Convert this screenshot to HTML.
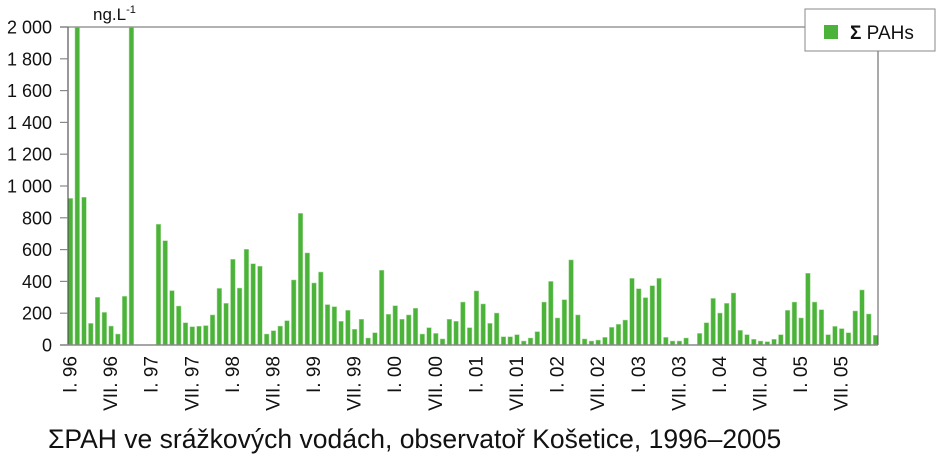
<!DOCTYPE html>
<html><head><meta charset="utf-8"><style>
body{margin:0;background:#fff;}
svg{display:block;font-family:"Liberation Sans",sans-serif;}
</style></head><body>
<svg width="950" height="458" viewBox="0 0 950 458">
<g id="bars"></g>
<g id="axes"></g>
<text x="93" y="20" font-size="17" fill="#111">ng.L<tspan dy="-7" font-size="11">-1</tspan></text>
<g>
<rect x="805" y="9" width="130" height="42" fill="#fff" stroke="#888" stroke-width="1"/>
<rect x="824" y="25" width="14" height="14" fill="#4cb33a"/>
<text x="850" y="39" font-size="19" fill="#111"><tspan font-weight="bold">Σ</tspan> PAHs</text>
</g>
<text x="48" y="448" font-size="26.5" fill="#111">ΣPAH ve srážkových vodách, observatoř Košetice, 1996–2005</text>
</svg>
<script>
const values = [922,2000,929,136,300,205,119,69,306,2000,0,0,
0,759,656,342,245,140,115,118,122,189,356,262,
539,358,602,511,495,69,90,119,153,409,828,579,
390,459,254,241,149,218,99,162,44,77,470,193,
247,162,189,231,69,109,73,38,162,149,270,109,
340,258,136,201,52,52,65,25,44,84,270,400,
170,285,535,189,38,25,31,48,111,130,157,419,
354,298,373,419,48,25,25,44,0,73,140,293,
201,262,327,92,65,36,25,21,36,65,218,270,
170,451,270,222,65,117,103,77,214,346,195,61];
const yTicks = [0,200,400,600,800,1000,1200,1400,1600,1800,2000];
const yTickLabels = ["0","200","400","600","800","1 000","1 200","1 400","1 600","1 800","2 000"];
const xLabels = ["I. 96","VII. 96","I. 97","VII. 97","I. 98","VII. 98","I. 99","VII. 99","I. 00","VII. 00","I. 01","VII. 01","I. 02","VII. 02","I. 03","VII. 03","I. 04","VII. 04","I. 05","VII. 05"];
const xLabelMonths = [0,6,12,18,24,30,36,42,48,54,60,66,72,78,84,90,96,102,108,114];

const NS="http://www.w3.org/2000/svg";
const X0=70.5, STEP=6.765, Y0=345, YTOP=27, YMAX=2000;
function xScale(i){return X0+i*STEP;}
function yScale(v){return Y0-(Math.min(v,YMAX)/YMAX)*(Y0-YTOP);}
function mk(tag,attrs,parent){const e=document.createElementNS(NS,tag);for(const k in attrs)e.setAttribute(k,attrs[k]);parent.appendChild(e);return e;}
const barsG=document.getElementById('bars'), axesG=document.getElementById('axes');
values.forEach((v,i)=>{
  if(v<=0)return;
  const y=yScale(v);
  const r=mk('rect',{x:xScale(i)-2.3,y:y,width:4.6,height:Y0-y,fill:'#4cb33a',stroke:'#a8dc9c','stroke-width':0.5},barsG);
  
  
});
const topLine=mk('line',{x1:60,y1:YTOP,x2:878,y2:YTOP,stroke:'#999','stroke-width':1.5},axesG);


const rightLine=mk('line',{x1:878,y1:YTOP,x2:878,y2:Y0,stroke:'#555','stroke-width':1},axesG);


const yAxisLine=mk('line',{x1:68,y1:YTOP,x2:68,y2:Y0,stroke:'#555','stroke-width':1.2},axesG);


const xAxisLine=mk('line',{x1:60,y1:Y0,x2:878,y2:Y0,stroke:'#888','stroke-width':1.5},axesG);


yTicks.forEach((t,i)=>{
  const y=yScale(t);
  const tk=mk('line',{x1:60,y1:y,x2:68,y2:y,stroke:'#888','stroke-width':1.2},axesG);
  
  
  const tx=mk('text',{x:52,y:y+6.5,'text-anchor':'end','font-size':18,fill:'#111'},axesG);
  tx.textContent=yTickLabels[i];
  
  
});
xLabels.forEach((l,i)=>{
  const x=xScale(xLabelMonths[i])+6;
  const tx=mk('text',{x:0,y:0,'text-anchor':'end','font-size':19,fill:'#111',transform:'translate('+x+',356) rotate(-90)'},axesG);
  tx.textContent=l;
  
  
});
</script>
</body></html>
